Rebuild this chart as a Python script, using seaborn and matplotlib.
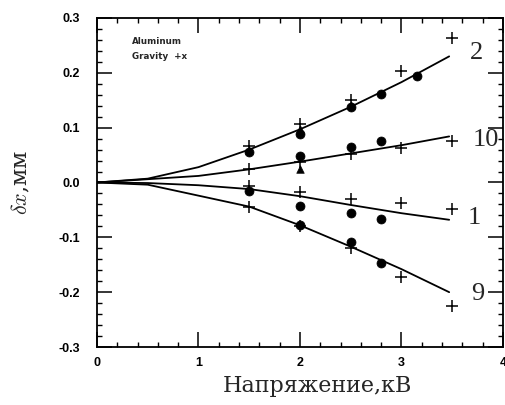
import numpy as np
import pandas as pd
import matplotlib
matplotlib.use("Agg")
import matplotlib.pyplot as plt
import seaborn as sns
from matplotlib.ticker import MultipleLocator, FormatStrFormatter

# ---------------- data ----------------
# measured points: crosses
cross_x = [1.5, 2.0, 2.5, 3.0, 3.5,
           1.5, 2.0, 2.5, 3.0, 3.5,
           1.5, 2.0, 2.5, 3.0, 3.5,
           1.5, 2.0, 2.5, 3.0, 3.5]
cross_y = [0.067, 0.107, 0.150, 0.203, 0.263,
           0.024, 0.038, 0.052, 0.062, 0.076,
           -0.007, -0.018, -0.031, -0.037, -0.049,
           -0.044, -0.080, -0.120, -0.172, -0.226]
# filled circles
dot_x = [1.5, 2.0, 2.5, 2.8, 3.15,
         2.0, 2.5, 2.8,
         1.5, 2.0, 2.5, 2.8,
         2.0, 2.5, 2.8]
dot_y = [0.055, 0.089, 0.137, 0.162, 0.195,
         0.049, 0.064, 0.075,
         -0.015, -0.042, -0.055, -0.066,
         -0.078, -0.109, -0.146]
# triangles
tri_x = [1.5, 2.0, 2.5, 2.0]
tri_y = [0.060, 0.098, 0.142, 0.024]

# fitted curves
curve_x = [0.0, 0.5, 1.0, 1.5, 2.0, 2.5, 3.0, 3.47]
curve_2 = [0.0, 0.007, 0.028, 0.060, 0.097, 0.138, 0.183, 0.230]
curve_10 = [0.0, 0.006, 0.012, 0.024, 0.038, 0.053, 0.068, 0.084]
curve_1 = [0.0, -0.001, -0.005, -0.012, -0.025, -0.041, -0.056, -0.068]
curve_9 = [0.0, -0.004, -0.024, -0.044, -0.078, -0.117, -0.158, -0.200]

curve_names = ["2", "10", "1", "9"]
label_x = [3.67, 3.70, 3.65, 3.69]
label_y = [0.237, 0.078, -0.064, -0.204]

x_ticks = [0, 1, 2, 3, 4]
y_ticks = [-0.3, -0.2, -0.1, 0.0, 0.1, 0.2, 0.3]

# ---------------- plot ----------------
sns.set_style("ticks", {
    "xtick.direction": "in", "ytick.direction": "in",
    "xtick.top": True, "ytick.right": True,
    "xtick.color": "black", "ytick.color": "black",
    "axes.edgecolor": "black",
})
plt.rcParams.update({
    "xtick.major.size": 11, "ytick.major.size": 11,
    "xtick.minor.size": 3.5, "ytick.minor.size": 3.5,
    "xtick.major.width": 1.1, "ytick.major.width": 1.1,
    "xtick.minor.width": 1.0, "ytick.minor.width": 1.0,
    "xtick.minor.visible": True, "ytick.minor.visible": True,
})
plt.rcParams["font.family"] = ["Liberation Serif", "DejaVu Serif"]
plt.rcParams["mathtext.fontset"] = "cm"

fig = plt.figure(figsize=(5.06, 4.05), dpi=100)
ax = fig.add_axes([0.1917, 0.1432, 0.8023, 0.8124])

curves = pd.DataFrame({
    "x": curve_x * 4,
    "y": curve_2 + curve_10 + curve_1 + curve_9,
    "curve": sum([[n] * len(curve_x) for n in curve_names], []),
})
sns.lineplot(data=curves, x="x", y="y", units="curve", estimator=None,
             color="black", lw=1.3, ax=ax, legend=False)

sns.scatterplot(x=cross_x, y=cross_y, marker="+", s=70, color="black",
                linewidth=1.1, ax=ax)
sns.scatterplot(x=dot_x, y=dot_y, marker="o", s=42, color="black",
                edgecolor="black", ax=ax)
sns.scatterplot(x=tri_x, y=tri_y, marker="^", s=30, color="black",
                edgecolor="black", ax=ax)

for n, lx, ly in zip(curve_names, label_x, label_y):
    ax.text(lx, ly, n, fontsize=19, ha="left", va="center",
            family=["Liberation Serif"])

ax.text(0.34, 0.257, "Aluminum", fontsize=6.3, fontweight="bold",
        family=["DejaVu Sans"], va="center")
ax.text(0.34, 0.230, "Gravity  +x", fontsize=6.3, fontweight="bold",
        family=["DejaVu Sans"], va="center")

ax.set_xlim(0, 4)
ax.set_ylim(-0.3, 0.3)
ax.set_xticks(x_ticks)
ax.set_yticks(y_ticks)
ax.xaxis.set_minor_locator(MultipleLocator(0.2))
ax.yaxis.set_minor_locator(MultipleLocator(0.02))
ax.yaxis.set_major_formatter(FormatStrFormatter("%.1f"))
ax.tick_params(axis="x", which="major", labelsize=9, pad=7)
ax.tick_params(axis="y", which="major", labelsize=9, pad=12)
for lab in ax.get_xticklabels() + ax.get_yticklabels():
    lab.set_fontweight("bold")
    lab.set_family(["Liberation Sans"])
for sp in ax.spines.values():
    sp.set_visible(True)
    sp.set_linewidth(1.3)
    sp.set_color("black")

ax.set_xlabel("Напряжение,кВ", fontsize=16, family=["DejaVu Serif"])
ax.set_ylabel(r"$\delta x$,мм", fontsize=16, family=["DejaVu Serif"])
ax.xaxis.set_label_coords(0.544, -0.085)
ax.yaxis.set_label_coords(-0.16, 0.5)

fig.savefig("out.png", dpi=100)
